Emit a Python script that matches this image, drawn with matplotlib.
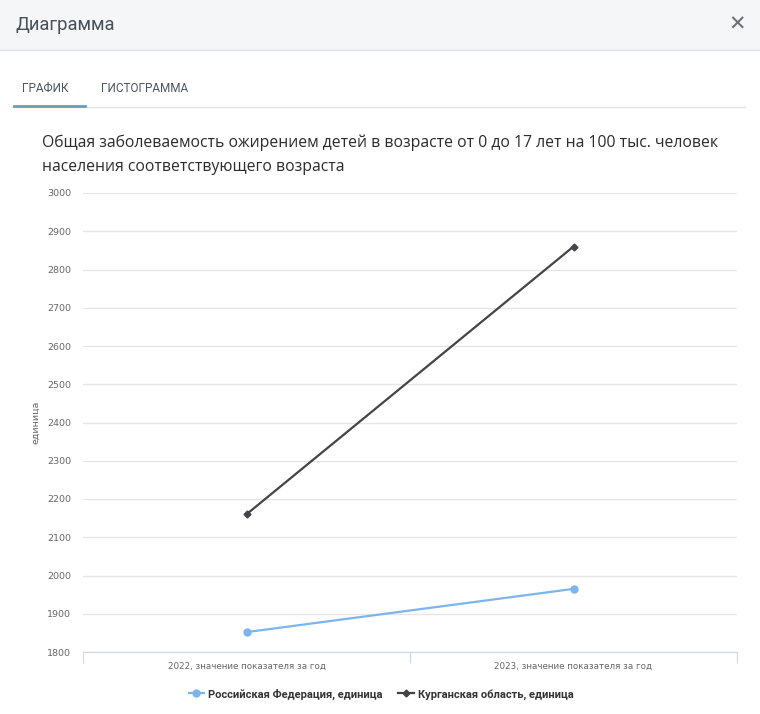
import matplotlib.pyplot as plt
from matplotlib.patches import Rectangle
from matplotlib.lines import Line2D

categories = ['2022, значение показателя за год', '2023, значение показателя за год']
rf_values = [1852, 1965]
kurgan_values = [2160, 2860]
series_names = ['Российская Федерация, единица', 'Курганская область, единица']
yticks = list(range(1800, 3001, 100))

W, H = 760, 714
fig = plt.figure(figsize=(W / 100, H / 100), dpi=100)
fig.patch.set_facecolor('white')

def fx(px):
    return px / W

def fy(py):
    return 1 - py / H

# header band
fig.patches.append(Rectangle((0, fy(50)), 1, 50 / H, transform=fig.transFigure,
                             facecolor='#f5f6f8', edgecolor='none', zorder=0))
fig.add_artist(Line2D([0, 1], [fy(50), fy(50)], color='#dde1e6', lw=1))
fig.text(fx(15), fy(25), 'Диаграмма', fontsize=13.2, color='#4a5057',
         family='Roboto', va='center', ha='left')
fig.text(fx(737), fy(25), '✕', fontsize=15, color='#6b7077',
         va='center', ha='center', fontweight='bold')

# tabs
fig.text(fx(22), fy(89), 'ГРАФИК', fontsize=8.5, color='#4a5560',
         family='Roboto', va='center', ha='left')
fig.text(fx(101), fy(89), 'ГИСТОГРАММА', fontsize=8.5, color='#4a5560',
         family='Roboto', va='center', ha='left')
fig.add_artist(Line2D([fx(12), fx(745)], [fy(107), fy(107)], color='#e3e5e8', lw=1))
fig.add_artist(Line2D([fx(14), fx(85)], [fy(106), fy(106)], color='#6a9fb5', lw=2))

# title
fig.text(fx(42), fy(143), 'Общая заболеваемость ожирением детей в возрасте от 0 до 17 лет на 100 тыс. человек',
         fontsize=11.3, color='#2b2b2b', family='Open Sans', va='center', ha='left')
fig.text(fx(42), fy(167), 'населения соответствующего возраста',
         fontsize=11.3, color='#2b2b2b', family='Open Sans', va='center', ha='left')

ax = fig.add_axes([fx(83), fy(652), (737 - 83) / W, (652 - 193) / H])
x = list(range(len(categories)))
ax.plot(x, rf_values, color='#7cb5ec', lw=1.6, marker='o', ms=5, zorder=3)
ax.plot(x, kurgan_values, color='#434348', lw=1.6, marker='D', ms=3.5, zorder=3)

ax.set_xlim(-0.5, len(categories) - 0.5)
ax.set_ylim(1800, 3000)
ax.set_yticks(yticks)
ax.set_yticklabels([str(v) for v in yticks])
ax.yaxis.grid(True, color='#e6e6e6', lw=1)
ax.set_axisbelow(True)
for s in ['top', 'right', 'left']:
    ax.spines[s].set_visible(False)
ax.spines['bottom'].set_color('#ccd6eb')
ax.tick_params(axis='y', length=0, labelsize=6.8, labelcolor='#666666', pad=8.5)
ax.set_xticks([-0.5, 0.5, 1.5])
ax.set_xticklabels([])
ax.tick_params(axis='x', length=8, color='#ccd6eb')
ax.set_xticks(x, minor=True)
ax.set_xticklabels(categories, minor=True)
ax.tick_params(axis='x', which='minor', length=0, labelsize=6.3, labelcolor='#666666', pad=7)
ax.set_ylabel('единица', fontsize=6.8, color='#666666', labelpad=5)

# legend
handles = [Line2D([], [], color='#7cb5ec', lw=1.6, marker='o', ms=5),
           Line2D([], [], color='#434348', lw=1.6, marker='D', ms=3.5)]
leg = fig.legend(handles, series_names, loc='center', bbox_to_anchor=(fx(381), fy(694)),
                 ncol=2, frameon=False, handlelength=1.4, handletextpad=0.35, columnspacing=1.4,
                 prop={'size': 8, 'weight': 'bold', 'family': 'Roboto'})
for t in leg.get_texts():
    t.set_color('#333333')

fig.savefig('out.png', dpi=100)
